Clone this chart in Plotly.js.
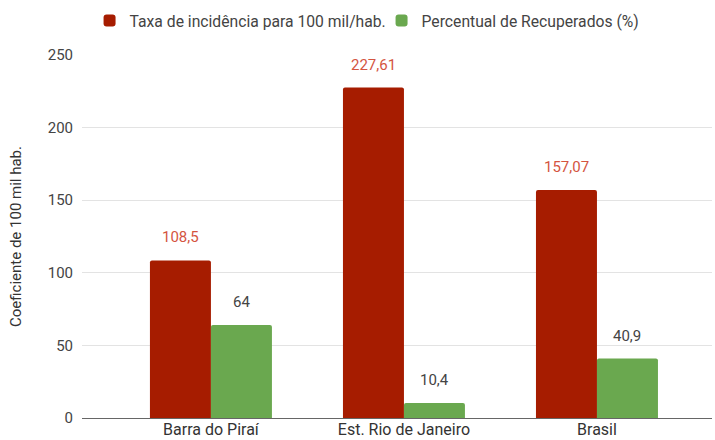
<!DOCTYPE html>
<html>
<head>
<meta charset="utf-8">
<script src="https://cdn.plot.ly/plotly-3.0.1.min.js"></script>
<style>html,body{margin:0;padding:0;background:#fff;}#chart{width:715px;height:440px;}</style>
</head>
<body>
<div id="chart"></div>
<script>
const categories = ["Barra do Piraí", "Est. Rio de Janeiro", "Brasil"];
const incidencia = [108.5, 227.61, 157.07];
const recuperados = [64, 10.4, 40.9];
const seriesNames = ["Taxa de incidência para 100 mil/hab.", "Percentual de Recuperados (%)"];
const yTicks = [0, 50, 100, 150, 200, 250];

const fmt = v => String(v).replace('.', ',');
const RED = '#a61c00', GREEN = '#6aa84f';
const font = 'Roboto, Arial, sans-serif';

const traces = [
  {type: 'bar', name: seriesNames[0], x: categories, y: incidencia,
   marker: {color: RED, cornerradius: 2}, hoverinfo: 'none'},
  {type: 'bar', name: seriesNames[1], x: categories, y: recuperados,
   marker: {color: GREEN, cornerradius: 2}, hoverinfo: 'none'}
];

const half = (1 - 0.368) / 4;
const annotations = [];
categories.forEach((c, i) => {
  annotations.push({x: i - half, y: incidencia[i], xref: 'x', yref: 'y', text: fmt(incidencia[i]),
    showarrow: false, yanchor: 'bottom', yshift: 12, font: {family: font, size: 15, color: '#d4553f'}});
  annotations.push({x: i + half, y: recuperados[i], xref: 'x', yref: 'y', text: fmt(recuperados[i]),
    showarrow: false, yanchor: 'bottom', yshift: 12, font: {family: font, size: 15, color: '#444'}});
});

const layout = {
  width: 715, height: 440,
  margin: {l: 82, r: 3, t: 55, b: 22, autoexpand: false},
  paper_bgcolor: '#fff', plot_bgcolor: '#fff',
  font: {family: font, size: 15, color: '#444'},
  barmode: 'group', bargap: 0.368, bargroupgap: 0,
  showlegend: true,
  legend: {orientation: 'h', x: 0.012, xanchor: 'left', y: 1.094, yanchor: 'middle',
    entrywidth: 247, entrywidthmode: 'pixels',
    font: {family: font, size: 15.7, color: '#444'}, traceorder: 'normal'},
  xaxis: {type: 'category', range: [-0.668, 2.596], showgrid: false, zeroline: false,
    showline: false, ticks: '', tickfont: {family: font, size: 16, color: '#333'}, fixedrange: true},
  yaxis: {range: [0, 250], tickvals: yTicks, ticktext: yTicks.map(String),
    showgrid: true, gridcolor: '#e3e3e3', gridwidth: 1, zeroline: true, zerolinecolor: '#666', zerolinewidth: 1,
    showline: false, ticks: '', ticklabelstandoff: 8,
    tickfont: {family: font, size: 15, color: '#444'},
    title: {text: 'Coeficiente de 100 mil hab.', font: {family: font, size: 15, color: '#333'}, standoff: 22}},
  annotations: annotations
};

Plotly.newPlot('chart', traces, layout, {displayModeBar: false, staticPlot: true});
</script>
</body>
</html>
